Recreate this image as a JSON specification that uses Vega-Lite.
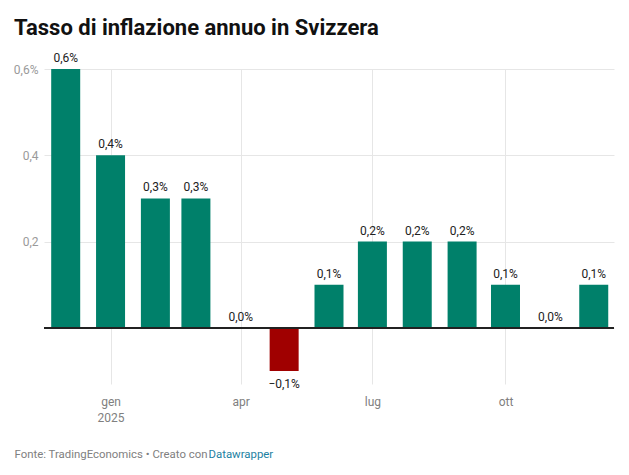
{
  "$schema": "https://vega.github.io/schema/vega-lite/v6.json",
  "width": 570,
  "height": 315,
  "autosize": {"type": "none"},
  "padding": {"left": 44, "top": 69, "right": 15, "bottom": 91},
  "background": "#ffffff",
  "title": {
    "text": "Tasso di inflazione annuo in Svizzera",
    "anchor": "start",
    "frame": "group",
    "dx": -30,
    "offset": 12,
    "font": "Roboto",
    "fontSize": 22,
    "fontWeight": "bold",
    "color": "#111111"
  },
  "data": {
    "values": [
      {"date": "2024-12-01", "value": 0.6, "label": "0,6%"},
      {"date": "2025-01-01", "value": 0.4, "label": "0,4%"},
      {"date": "2025-02-01", "value": 0.3, "label": "0,3%"},
      {"date": "2025-03-01", "value": 0.3, "label": "0,3%"},
      {"date": "2025-04-01", "value": 0.0, "label": "0,0%"},
      {"date": "2025-05-01", "value": -0.1, "label": "−0,1%"},
      {"date": "2025-06-01", "value": 0.1, "label": "0,1%"},
      {"date": "2025-07-01", "value": 0.2, "label": "0,2%"},
      {"date": "2025-08-01", "value": 0.2, "label": "0,2%"},
      {"date": "2025-09-01", "value": 0.2, "label": "0,2%"},
      {"date": "2025-10-01", "value": 0.1, "label": "0,1%"},
      {"date": "2025-11-01", "value": 0.0, "label": "0,0%"},
      {"date": "2025-12-01", "value": 0.1, "label": "0,1%"}
    ]
  },
  "resolve": {"axis": {"x": "independent", "y": "independent"}},
  "layer": [
    {
      "mark": {"type": "bar", "width": 29},
      "encoding": {
        "x": {
          "field": "date",
          "type": "temporal",
          "scale": {
            "type": "utc",
            "padding": 0,
            "domain": [
              {"year": 2024, "month": 11, "date": 16, "utc": true},
              {"year": 2025, "month": 12, "date": 15, "utc": true}
            ]
          },
          "axis": {
            "orient": "bottom",
            "values": [
              {"year": 2025, "month": 1, "date": 1, "utc": true},
              {"year": 2025, "month": 4, "date": 1, "utc": true},
              {"year": 2025, "month": 7, "date": 1, "utc": true},
              {"year": 2025, "month": 10, "date": 1, "utc": true}
            ],
            "labelExpr": "utcmonth(datum.value) == 0 ? ['gen', '' + utcyear(datum.value)] : utcmonth(datum.value) == 3 ? 'apr' : utcmonth(datum.value) == 6 ? 'lug' : 'ott'",
            "grid": true,
            "gridColor": "#e6e6e6",
            "gridWidth": 1,
            "domain": false,
            "ticks": false,
            "labelPadding": 12,
            "labelFont": "Roboto",
            "labelFontSize": 12,
            "labelColor": "#808080",
            "labelLineHeight": 16,
            "title": "Fonte: TradingEconomics • Creato con",
            "titleFont": "Roboto",
            "titleFontSize": 11.4,
            "titleFontWeight": "normal",
            "titleColor": "#808080",
            "titleAnchor": "start",
            "titleAlign": "left",
            "titleBaseline": "alphabetic",
            "titleX": -30,
            "titleY": 73
          }
        },
        "y": {
          "field": "value",
          "type": "quantitative",
          "scale": {"domain": [-0.13, 0.6], "nice": false, "zero": false},
          "axis": {
            "orient": "left",
            "values": [0, 0.2, 0.4, 0.6],
            "labelExpr": "datum.value == 0 ? '' : datum.value > 0.5 ? '0,6%' : replace(format(datum.value, '.1f'), '.', ',')",
            "grid": true,
            "gridColor": "#e6e6e6",
            "domain": false,
            "ticks": false,
            "labelPadding": 6,
            "labelFont": "Roboto",
            "labelFontSize": 12,
            "labelColor": "#9a9a9a",
            "title": null
          }
        },
        "color": {
          "condition": {"test": "datum.value < 0", "value": "#a00000"},
          "value": "#00806a"
        }
      }
    },
    {
      "mark": {"type": "rule", "color": "#222222", "strokeWidth": 1.5},
      "encoding": {"y": {"datum": 0, "type": "quantitative", "axis": null}}
    },
    {
      "transform": [{"filter": "datum.value >= 0"}],
      "mark": {"type": "text", "font": "Roboto", "fontSize": 12, "color": "#222222", "baseline": "alphabetic", "dy": -7},
      "encoding": {
        "x": {
          "field": "date",
          "type": "temporal",
          "axis": {
            "orient": "bottom",
            "labels": false,
            "grid": false,
            "domain": false,
            "ticks": false,
            "title": "Datawrapper",
            "titleFont": "Roboto",
            "titleFontSize": 11.4,
            "titleFontWeight": "normal",
            "titleColor": "#1d81a2",
            "titleAnchor": "start",
            "titleAlign": "left",
            "titleBaseline": "alphabetic",
            "titleX": 164,
            "titleY": 73
          }
        },
        "y": {"field": "value", "type": "quantitative", "axis": null},
        "text": {"field": "label"}
      }
    },
    {
      "transform": [{"filter": "datum.value < 0"}],
      "mark": {"type": "text", "font": "Roboto", "fontSize": 12, "color": "#222222", "baseline": "alphabetic", "dy": 17},
      "encoding": {
        "x": {"field": "date", "type": "temporal", "axis": null},
        "y": {"field": "value", "type": "quantitative", "axis": null},
        "text": {"field": "label"}
      }
    }
  ],
  "config": {
    "view": {"stroke": null},
    "font": "Roboto"
  }
}
